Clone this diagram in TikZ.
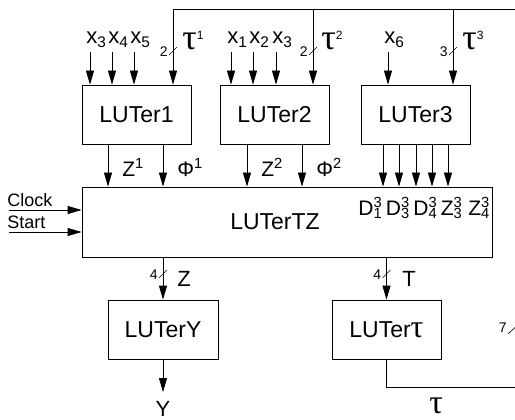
\documentclass[tikz,border=0pt]{standalone}
\usepackage{fontspec}
\setmainfont{Liberation Sans}
\newfontfamily\taufont{Liberation Serif}
\usetikzlibrary{arrows.meta,calc}
\newcommand\tauch[1]{{\taufont\fontsize{#1}{#1}\selectfont τ}}
\newcommand\supsub[2]{\rlap{\textsuperscript{#1}}\textsubscript{#2}}
\newcommand\dlab[3]{\makebox[27.5pt][l]{#1\supsub{#2}{#3}}}
\newcommand\tausup[1]{\tauch{36}\raisebox{10pt}{\fontsize{12}{12}\selectfont #1}}
\begin{document}
\begin{tikzpicture}[x=1pt,y=-1pt,line width=0.8pt,
  arr/.style={-{Triangle[length=14pt,width=8pt]}},
  blk/.style={draw,minimum width=109pt,minimum height=59pt,inner sep=0pt,font=\fontsize{23}{23}\selectfont},
  boxlab/.style={inner sep=0pt,font=\fontsize{23}{23}\selectfont},
  var/.style={inner sep=0pt,font=\fontsize{22}{22}\selectfont},
  sig/.style={inner sep=0pt,font=\fontsize{21}{21}\selectfont},
  sigb/.style={inner sep=0pt,text depth=0pt,font=\fontsize{22}{22}\selectfont},
  ctl/.style={inner sep=0pt,font=\fontsize{18}{18}\selectfont},
  ticklab/.style={inner sep=0pt,font=\fontsize{14}{14}\selectfont},
  tk/.style={line width=0.6pt}]
\useasboundingbox (0,0) rectangle (515,420);
\newcommand\bustick[3]{\draw[tk] (#1-4,#2+4) -- (#1+4,#2-4); \node[ticklab,anchor=east] at (#1-5,#2+1) {#3};}
% blocks
\node[blk] (L1) at (136.5,114.5) {LUTer1};
\node[blk] (L2) at (274.5,114.5) {LUTer2};
\node[blk] (L3) at (415.5,114.5) {LUTer3};
\node[blk,minimum width=410pt,minimum height=70pt] (TZ) at (287,222) {};
\node[boxlab] (TZl) at (275,222) {LUTerTZ};
\node[blk,minimum width=110pt] (LY) at (163,329.5) {LUTerY};
\node[blk] (Lt) at (386.5,329.5) {LUTer\tauch{32}};
% inputs x
\foreach \nm/\ax/\sub/\tgt in {xa/90/3/L1,xb/112/4/L1,xc/134/5/L1,xd/231/1/L2,xe/253/2/L2,xf/276/3/L2,xg/388/6/L3}{
  \node[var,anchor=base west] (\nm) at (\ax-4,44) {x\textsubscript{\sub}};
  \coordinate (\nm s) at (\ax,52);
  \draw[arr] (\nm s) -- (\nm s |- \tgt.north);
}
% feedback bus
\coordinate (tl) at (173,9);
\coordinate (t2) at (313,9);
\coordinate (t3) at (453,9);
\coordinate (tr) at (518,9);
\coordinate (br) at (518,387);
\draw (Lt.south) |- (br) -- (tr) -- (tl);
\draw[arr] (tl) -- (tl |- L1.north);
\draw[arr] (t2) -- (t2 |- L2.north);
\draw[arr] (t3) -- (t3 |- L3.north);
\bustick{173}{51}{2}
\bustick{313}{51}{2}
\bustick{453}{51}{3}
\draw[tk] (508,334) -- (521,322);
\node[ticklab,anchor=east] at (507,328) {7};
\node[inner sep=0pt,anchor=base west] (tau1) at (182,50) {\tausup{1}};
\node[inner sep=0pt,anchor=base west] (tau2) at (321,50) {\tausup{2}};
\node[inner sep=0pt,anchor=base west] (tau3) at (462,50) {\tausup{3}};
% LUTer1/2 outputs
\coordinate (c1) at (108,0);
\coordinate (c2) at (163,0);
\coordinate (c3) at (247,0);
\coordinate (c4) at (302,0);
\draw[arr] (L1.south -| c1) -- (c1 |- TZ.north);
\draw[arr] (L1.south -| c2) -- (c2 |- TZ.north);
\draw[arr] (L2.south -| c3) -- (c3 |- TZ.north);
\draw[arr] (L2.south -| c4) -- (c4 |- TZ.north);
\node[sig,anchor=base west] (z1) at (122,176) {Z\textsuperscript{1}};
\node[sig,anchor=base west] (f1) at (177,176) {Φ\textsuperscript{1}};
\node[sig,anchor=base west] (z2) at (261,176) {Z\textsuperscript{2}};
\node[sig,anchor=base west] (f2) at (316,176) {Φ\textsuperscript{2}};
% LUTer3 outputs
\foreach \ax [count=\i] in {383,399,416,432,448}{
  \coordinate (d\i) at (\ax,0);
  \draw[arr] (L3.south -| d\i) -- (d\i |- TZ.north);
}
\node[sig,anchor=base west] (Dl) at (358,215) {\dlab{D}{3}{1}\dlab{D}{3}{3}\dlab{D}{3}{4}\dlab{Z}{3}{3}Z\supsub{3}{4}};
% clock, start
\node[ctl,anchor=base west] (clk) at (7,206) {Clock};
\node[ctl,anchor=base west] (sta) at (7,229) {Start};
\coordinate (clks) at (9,210);
\coordinate (stas) at (9,232);
\draw[arr] (clks) -- (clks -| TZ.west);
\draw[arr] (stas) -- (stas -| TZ.west);
% TZ outputs
\draw[arr] (LY.north |- TZ.south) -- (LY.north);
\draw[arr] (Lt.north |- TZ.south) -- (Lt.north);
\bustick{163}{274}{4}
\bustick{386.5}{274}{4}
\node[sigb,anchor=base west] (zl) at (177,287) {Z};
\node[sigb,anchor=base west] (tl2) at (402,287) {T};
% LUTerY output
\coordinate (yo) at (163,392);
\draw[arr] (LY.south) -- (yo);
\node[sigb,anchor=base] (yl) at (163,416) {Y};
\node[inner sep=0pt,text depth=0pt,anchor=base west] (taub) at (429,413) {\tauch{34}};
\end{tikzpicture}
\end{document}
